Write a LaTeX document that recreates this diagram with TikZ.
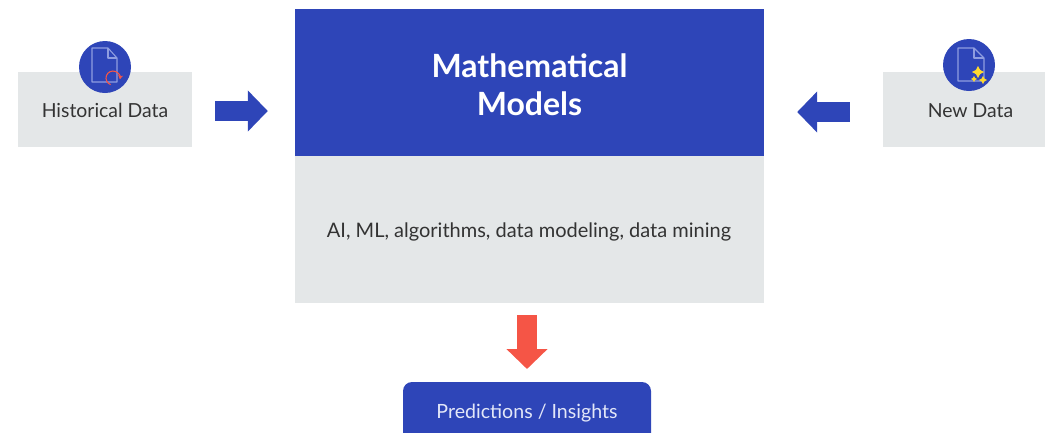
\documentclass[tikz,border=0pt]{standalone}
\usepackage{fontspec}
\setmainfont{Lato}
\usetikzlibrary{arrows.meta,calc}
\definecolor{bluebox}{HTML}{2E45B8}
\definecolor{greybox}{HTML}{E4E7E8}
\definecolor{redarrow}{HTML}{F55546}
\definecolor{txt}{HTML}{333333}
\definecolor{pagewhite}{HTML}{E3E7F8}
\definecolor{docblue}{HTML}{8F9DE0}
\definecolor{sparkle}{HTML}{FFD92E}
\tikzset{
  greyrect/.style={fill=greybox,draw=none,inner sep=0pt,text=txt},
  bluerect/.style={fill=bluebox,draw=none,inner sep=0pt,text=white},
  disc/.style={circle,fill=bluebox,draw=none,minimum size=52pt,inner sep=0pt},
  blockarrow/.style={line width=20pt,draw=bluebox,-{Triangle[length=20pt,width=40pt]}},
  redblock/.style={line width=20pt,draw=redarrow,-{Triangle[length=20pt,width=40pt]}},
  docline/.style={draw=docblue,line width=1.1pt,line join=round},
}
\begin{document}
\begin{tikzpicture}[x=1pt,y=-1pt]
\useasboundingbox (0,0) rectangle (1045,432);
\node[greyrect,minimum width=174pt,minimum height=75pt] (hist) at (105,109) {};
\node[greyrect,minimum width=163pt,minimum height=75pt] (new) at (964.5,109) {};
\node[anchor=base,text=txt,font=\fontsize{19.4}{22}\selectfont] (histlabel) at (105,117) {Historical Data};
\node[anchor=base,text=txt,font=\fontsize{19.4}{22}\selectfont] (newlabel) at (970.5,117) {New Data};
\node[bluerect,minimum width=469pt,minimum height=147pt] (models) at (529.5,82.5) {};
\node[text=white,font=\fontsize{32}{38}\selectfont\bfseries,align=center] (title) at (529.5,84.5) {Mathematical\\Models};
\node[greyrect,minimum width=469pt,minimum height=147pt] (desc) at (529.5,229.5) {};
\node[text=txt,font=\fontsize{20}{22}\selectfont,anchor=base] (desclabel) at (529,237) {AI, ML, algorithms, data modeling, data mining};
\begin{scope}
\clip (0,0) rectangle (1045,432);
\fill[bluebox,rounded corners=9pt] (403,382) rectangle (651,460);
\end{scope}
\node[anchor=base,text=pagewhite,font=\fontsize{19.6}{22}\selectfont] (pred) at (527,418) {Predictions / Insights};
\coordinate (predtop) at (527,382);
% discs
\node[disc] (d1) at (105,67) {};
\node[disc] (d2) at (969,65) {};
% historical icon
\draw[docline] ($(d1)+(-13,-19)$) -- ($(d1)+(3,-19)$) -- ($(d1)+(12,-9)$) -- ($(d1)+(12,15)$) -- ($(d1)+(-13,15)$) -- cycle;
\draw[docline] ($(d1)+(3,-19)$) -- ($(d1)+(3,-9)$) -- ($(d1)+(12,-9)$);
\draw[redarrow,line width=1.1pt,-{Stealth[length=4pt,width=5pt]}] ($(d1)+(5.6,17.6)$) arc[start angle=250,end angle=-10,radius=7pt];
% new icon
\draw[docline] ($(d2)+(-11,-17)$) -- ($(d2)+(5,-17)$) -- ($(d2)+(15,-7)$) -- ($(d2)+(15,16)$) -- ($(d2)+(-11,16)$) -- cycle;
\draw[docline] ($(d2)+(5,-17)$) -- ($(d2)+(5,-7)$) -- ($(d2)+(15,-7)$);
\foreach \cx/\cy/\r in {9/7/6,14/15/4,5/14/3}{
  \fill[sparkle] ($(d2)+(\cx,\cy)+(0,-\r)$) -- ($(d2)+(\cx,\cy)+(.35*\r,-.35*\r)$) -- ($(d2)+(\cx,\cy)+(\r,0)$) -- ($(d2)+(\cx,\cy)+(.35*\r,.35*\r)$) -- ($(d2)+(\cx,\cy)+(0,\r)$) -- ($(d2)+(\cx,\cy)+(-.35*\r,.35*\r)$) -- ($(d2)+(\cx,\cy)+(-\r,0)$) -- ($(d2)+(\cx,\cy)+(-.35*\r,-.35*\r)$) -- cycle;
}
% arrows
\draw[blockarrow] ($(hist.east)+(23,2)$) -- ($(models.west |- hist.east)+(-27,2)$);
\draw[blockarrow] ($(new.west)+(-33,3)$) -- ($(models.east |- new.west)+(33,3)$);
\draw[redblock] ($(desc.south -| predtop)+(0,12)$) -- ($(predtop)+(0,-13)$);
\end{tikzpicture}
\end{document}
